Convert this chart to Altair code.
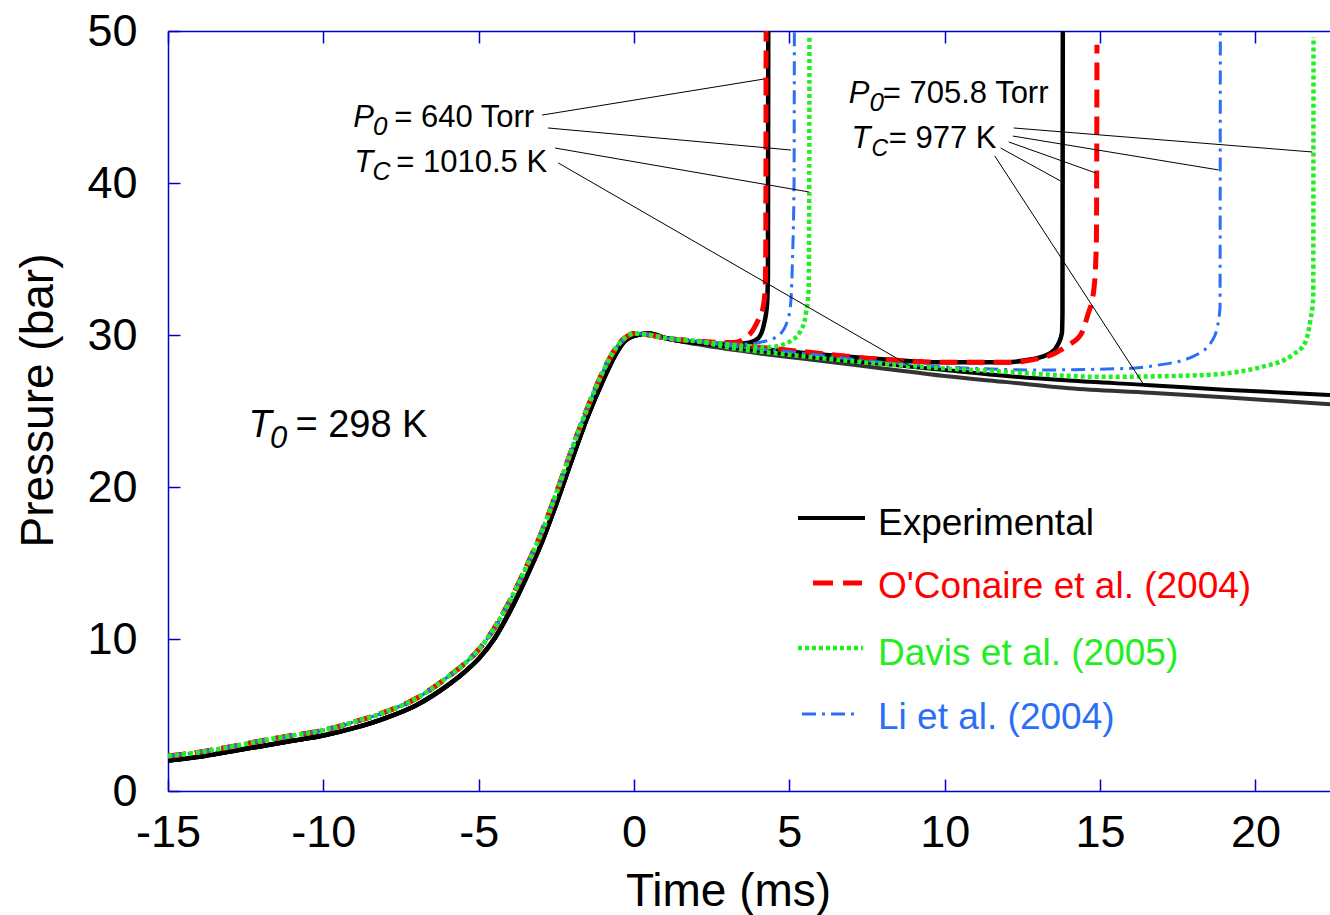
import altair as alt
import pandas as pd

# ---------------- data ----------------
# shared compression stroke (models) and experimental compression
comp_t = [-15, -14, -13, -12, -11, -10, -9, -8, -7, -6.5, -6, -5.5, -5, -4.5, -4, -3.5, -3,
          -2.5, -2, -1.5, -1, -0.6, -0.3, 0, 0.5, 1]
comp_p_model = [2.3, 2.55, 2.9, 3.3, 3.65, 4.0, 4.55, 5.2, 6.1, 6.75, 7.5, 8.3, 9.3, 10.7, 12.5,
                14.6, 16.9, 19.6, 22.5, 25.2, 27.6, 29.1, 29.8, 30.1, 30.0, 29.8]
comp_p_exp = [2.0, 2.25, 2.6, 2.95, 3.3, 3.65, 4.15, 4.8, 5.65, 6.25, 6.95, 7.75, 8.7, 10.0, 11.8,
              13.9, 16.2, 18.9, 21.8, 24.6, 27.0, 28.7, 29.6, 29.95, 30.1, 29.8]

# non-reactive experimental traces
nr_a_t = [2, 4, 6, 8, 10, 12, 14, 16.6, 19, 22.4]
nr_a_p = [29.5, 29.0, 28.5, 28.1, 27.7, 27.3, 27.0, 26.7, 26.4, 26.05]
nr_b_t = [2, 4, 6, 8, 10, 12, 14, 16.6, 19, 22.4]
nr_b_p = [29.4, 28.8, 28.3, 27.8, 27.3, 26.9, 26.5, 26.2, 25.9, 25.45]

# P0 = 640 Torr
exp640_t = [2, 3.2, 3.7, 4.0, 4.18, 4.28, 4.31, 4.32]
exp640_p = [29.5, 29.4, 29.5, 29.8, 30.7, 32.0, 34.0, 50.0]
oco640_t = [2, 3.2, 3.7, 4.0, 4.15, 4.22, 4.24, 4.25]
oco640_p = [29.6, 29.5, 30.0, 31.0, 31.8, 33.0, 36.0, 50.0]
li640_t = [2, 3.5, 4.0, 4.6, 4.95, 5.05, 5.1, 5.15, 5.16]
li640_p = [29.6, 29.4, 29.5, 29.9, 31.0, 32.3, 35.0, 40.0, 50.0]
dav640_t = [2, 3.5, 4.3, 4.95, 5.37, 5.53, 5.62, 5.64, 5.645]
dav640_p = [29.6, 29.3, 29.2, 29.5, 30.3, 31.4, 33.0, 40.0, 49.6]

# P0 = 705.8 Torr
exp706_t = [2, 3, 5, 8, 10, 11.8, 12.8, 13.4, 13.65, 13.77, 13.79, 13.8]
exp706_p = [29.5, 29.3, 28.9, 28.4, 28.2, 28.2, 28.4, 28.8, 29.4, 30.1, 31.5, 50.0]
oco706_t = [2, 3, 5, 8, 10, 12, 13.3, 13.95, 14.4, 14.6, 14.8, 14.88, 14.9]
oco706_p = [29.6, 29.4, 29.0, 28.4, 28.2, 28.2, 28.6, 29.3, 30.1, 31.3, 33.0, 36.0, 49.1]
li706_t = [2, 3, 5, 8, 10, 12.9, 15.9, 16.8, 18.0, 18.6, 18.77, 18.86, 18.87]
li706_p = [29.6, 29.3, 28.9, 28.2, 27.9, 27.7, 27.8, 28.0, 28.6, 29.6, 30.5, 31.8, 50.0]
dav706_t = [2, 3, 5, 8, 10, 11.8, 15, 18.2, 20.2, 21.2, 21.6, 21.77, 21.86, 21.87]
dav706_p = [29.6, 29.2, 28.7, 28.1, 27.8, 27.6, 27.25, 27.35, 27.9, 28.7, 29.5, 31.0, 32.4, 49.6]

# leader lines (time, pressure endpoints)
lead_t1 = [-2.96, -2.77, -2.54, -2.44, 12.22, 12.19, 12.06, 11.80, 11.61]
lead_p1 = [44.47, 43.62, 42.30, 41.32, 43.62, 43.09, 42.70, 42.30, 41.78]
lead_t2 = [4.18, 5.05, 5.63, 9.00, 21.83, 18.81, 14.86, 13.73, 16.37]
lead_p2 = [46.84, 42.17, 39.41, 27.83, 42.04, 40.86, 40.66, 40.13, 26.84]

# annotations
ann_sym = ["P", "T", "P", "T", "T"]
ann_sym_t = [-9.035, -9.003, 6.913, 7.00, -12.41]
ann_sym_p = [43.68, 40.72, 45.26, 42.30, 23.29]
ann_sub = ["0", "C", "0", "C", "0"]
ann_sub_t = [-8.40, -8.42, 7.58, 7.64, -11.72]
ann_sub_p = [43.16, 40.20, 44.74, 41.78, 22.55]
ann_txt = ["= 640 Torr", "= 1010.5 K", "= 705.8 Torr", "= 977 K", "= 298 K"]
ann_txt_t = [-7.717, -7.653, 8.006, 8.20, -10.90]
ann_txt_p = [43.68, 40.72, 45.26, 42.30, 23.29]
ann_size = [31, 31, 31, 31, 38]
ann_sub_size = [26, 25, 26, 23, 31]

legend_names = ["Experimental", "O'Conaire et al. (2004)", "Davis et al. (2005)", "Li et al. (2004)"]

x_ticks = [-15, -10, -5, 0, 5, 10, 15, 20]
y_ticks = [0, 10, 20, 30, 40, 50]

# ---------------- styling ----------------
FONT = "Liberation Sans"
AX = "#0000cc"
RED = "#ff0000"
GREEN = "#22ee22"
BLUE = "#2a6ff5"

xs = alt.Scale(domain=[-15, 22.4], nice=False, zero=False)
ys = alt.Scale(domain=[0, 50], nice=False, zero=False)

x_bottom = alt.Axis(orient="bottom", values=x_ticks, title="Time (ms)", grid=False,
                    labelExpr="'' + datum.value",
                    tickSize={"expr": "-12"}, tickColor=AX, tickWidth=1.5,
                    domainColor=AX, domainWidth=1.5, labelFont=FONT, labelFontSize=45,
                    labelColor="black", labelPadding=31, labelFlush=False,
                    labelOverlap=False, titleFont=FONT, titleFontSize=46,
                    titleFontWeight="normal", titleColor="black", titleX=560, titleY=114,
                    titleBaseline="alphabetic", titleAlign="center")
x_top = alt.Axis(orient="top", values=x_ticks, title=None, labels=False, grid=False,
                 tickSize={"expr": "-12"}, tickColor=AX, tickWidth=1.5,
                 domainColor=AX, domainWidth=1.5)
y_left = alt.Axis(orient="left", values=y_ticks, title="Pressure (bar)", grid=False,
                  labelExpr="'' + datum.value",
                  tickSize={"expr": "-12"}, tickColor=AX, tickWidth=1.5,
                  domainColor=AX, domainWidth=1.5, labelFont=FONT, labelFontSize=45,
                  labelColor="black", labelPadding=43, labelFlush=False,
                  labelOverlap=False, titleFont=FONT, titleFontSize=46,
                  titleFontWeight="normal", titleColor="black", titleX=-116, titleY=369,
                  titleAngle=270, titleBaseline="alphabetic", titleAlign="center")


def series_df(t, p):
    return pd.DataFrame({"t": t, "p": p, "i": list(range(len(t)))})


def line(t, p, color, width, dash=None, xaxis=None):
    kw = dict(color=color, strokeWidth=width, clip=True, interpolate="monotone")
    if dash:
        kw["strokeDash"] = dash
    return alt.Chart(series_df(t, p)).mark_line(**kw).encode(
        x=alt.X("t:Q", scale=xs, axis=xaxis),
        y=alt.Y("p:Q", scale=ys, axis=y_left),
        order="i:Q",
    )


layers = [
    line(comp_t + nr_b_t, comp_p_exp + nr_b_p, "#333333", 4, xaxis=x_bottom),
    line(comp_t + nr_a_t, comp_p_exp + nr_a_p, "#000000", 4),
    line(comp_t + exp640_t, comp_p_exp + exp640_p, "#000000", 4.5),
    line(comp_t + exp706_t, comp_p_exp + exp706_p, "#000000", 4.5),
    line(comp_t + oco640_t, comp_p_model + oco640_p, RED, 5, [18, 9]),
    line(comp_t + oco706_t, comp_p_model + oco706_p, RED, 5, [18, 9]),
    line(comp_t + li640_t, comp_p_model + li640_p, BLUE, 3, [14, 6, 3, 6]),
    line(comp_t + li706_t, comp_p_model + li706_p, BLUE, 3, [14, 6, 3, 6]),
    line(comp_t + dav640_t, comp_p_model + dav640_p, GREEN, 4.5, [4, 3]),
    line(comp_t + dav706_t, comp_p_model + dav706_p, GREEN, 4.5, [4, 3]),
]

lead_df = pd.DataFrame({"t1": lead_t1, "p1": lead_p1, "t2": lead_t2, "p2": lead_p2})
leaders = alt.Chart(lead_df).mark_rule(color="black", strokeWidth=1).encode(
    x=alt.X("t1:Q", scale=xs, axis=x_top),
    y=alt.Y("p1:Q", scale=ys, axis=y_left),
    x2="t2:Q", y2="p2:Q",
)
layers.append(leaders)

sym_df = pd.DataFrame({"s": ann_sym, "t": ann_sym_t, "p": ann_sym_p, "fs": ann_size})
sub_df = pd.DataFrame({"s": ann_sub, "t": ann_sub_t, "p": ann_sub_p, "fs": ann_sub_size})
txt_df = pd.DataFrame({"s": ann_txt, "t": ann_txt_t, "p": ann_txt_p, "fs": ann_size})


def texts(df, style):
    return alt.Chart(df).mark_text(font=FONT, fontStyle=style, align="left",
                                   baseline="alphabetic", color="black").encode(
        x=alt.X("t:Q", scale=xs, axis=None),
        y=alt.Y("p:Q", scale=ys, axis=y_left),
        text="s:N",
        size=alt.Size("fs:Q", scale=None),
    )


layers += [texts(sym_df, "italic"), texts(sub_df, "italic"), texts(txt_df, "normal")]

# legend (drawn by hand, pixel placement inside the plot area)
leg_colors = ["#000000", RED, GREEN, BLUE]
leg_x1 = [630, 645, 630, 634]
leg_x2 = [697, 694, 695, 687]
leg_line_y = [487, 552, 617, 683]
leg_text_y = [504, 567, 634, 698]
leg_dash = [None, [20, 10], [4, 3], [14, 6, 3, 6]]
leg_w = [4, 5, 4.5, 3]
for k, name in enumerate(legend_names):
    d = pd.DataFrame({"label": [name]})
    kw = dict(color=leg_colors[k], strokeWidth=leg_w[k])
    if leg_dash[k]:
        kw["strokeDash"] = leg_dash[k]
    layers.append(alt.Chart(d).mark_rule(**kw).encode(
        x=alt.value(leg_x1[k]), x2=alt.value(leg_x2[k]), y=alt.value(leg_line_y[k])))
    layers.append(alt.Chart(d).mark_text(font=FONT, fontSize=37, align="left",
                                         baseline="alphabetic", color=leg_colors[k]).encode(
        x=alt.value(710), y=alt.value(leg_text_y[k]), text="label:N"))

chart = alt.layer(*layers).resolve_axis(x="independent").properties(
    width=1162, height=760,
    padding={"left": 168, "top": 31, "right": 0, "bottom": 124},
    autosize=alt.AutoSizeParams(type="none"),
    background="white",
).configure_view(stroke=None)

chart.save("out.html", embed_options={"renderer": "svg", "actions": False})
